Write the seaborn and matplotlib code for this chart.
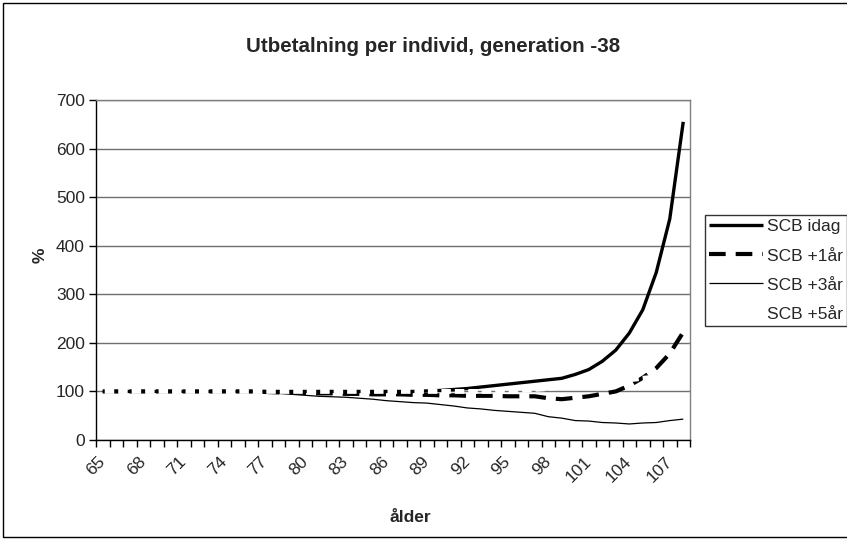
import numpy as np
import pandas as pd
import matplotlib
matplotlib.use("Agg")
import matplotlib.pyplot as plt
from matplotlib.patches import Rectangle
import seaborn as sns

sns.set_style("white")
plt.rcParams['font.family'] = ['Liberation Sans', 'DejaVu Sans']

ages = list(range(65, 109))
scb_idag = [100]*24 + [101, 102, 104, 106, 109, 112, 115, 118, 121, 124, 127,
                        135, 145, 162, 185, 220, 268, 345, 455, 655]
scb_1ar = [100]*12 + [99, 98, 98, 97, 96, 96, 95, 95, 94, 94, 94, 93,
                      93, 92, 92, 91, 91, 91, 90, 90, 90, 86, 84,
                      87, 90, 95, 100, 112, 128, 148, 178, 222]
scb_3ar = [100]*11 + [98, 97, 96, 94, 92, 90, 89, 88, 86, 84, 81, 79, 77,
                      76, 73, 70, 66, 64, 61, 59, 57, 55, 48, 45,
                      40, 39, 36, 35, 33, 35, 36, 40, 43]
scb_5ar = [100]*31 + [102, 104, 106, 109, 112, 115, 118, 121, 124, 127, 130, 133, 136]
series_names = ["SCB idag", "SCB +1år", "SCB +3år", "SCB +5år"]
title = "Utbetalning per individ, generation -38"
xlabel = "ålder"
ylabel = "%"

W, H = 847, 540
fig = plt.figure(figsize=(W/100, H/100), dpi=100)
ax = fig.add_axes([96/W, 1-440/H, (690-96)/W, (440-100)/H])

styles = [
    dict(color="black", linewidth=2.4),
    dict(color="black", linewidth=3.0),
    dict(color="black", linewidth=0.9),
    dict(color="white", linewidth=3.5),
]
handles = []
for name, vals, st in zip(series_names, [scb_idag, scb_1ar, scb_3ar, scb_5ar], styles):
    df = pd.DataFrame({"age": ages, "val": vals})
    sns.lineplot(data=df, x="age", y="val", ax=ax, **st)
    ln = ax.lines[-1]
    ln.set_solid_capstyle("butt")
    if name == "SCB +1år":
        ln.set_dashes((4, 2.4))
        ln.set_dash_capstyle("butt")
    if name == "SCB +5år":
        ln.set_linestyle((2.36, (1.95, 0.82)))
        ln.set_dash_capstyle("butt")
    handles.append(ln)

ax.set_xlim(64.5, 108.5)
ax.set_ylim(0, 700)
ax.set_yticks(range(0, 701, 100))
ax.set_yticklabels([str(v) for v in range(0, 701, 100)], fontsize=12.5)
ax.yaxis.grid(True, color="#707070", linewidth=1)
ax.set_axisbelow(True)

# category boundaries as ticks, labels every 3rd category
ax.set_xticks(np.arange(64.5, 108.6, 1.0))
ax.set_xticklabels([])
lab_pos = list(range(65, 109, 3))
ax.set_xticks(lab_pos, minor=True)
ax.set_xticklabels([str(a) for a in lab_pos], minor=True, rotation=45,
                   ha="right", va="center", rotation_mode="anchor", fontsize=12.5)
ax.tick_params(axis="x", which="major", direction="out", length=5, width=1, color="black", bottom=True)
ax.tick_params(axis="x", which="minor", length=0, pad=14)
ax.tick_params(axis="y", direction="out", length=5, width=1, color="black", left=True, pad=3)

for s in ["left", "bottom"]:
    ax.spines[s].set_color("black")
    ax.spines[s].set_linewidth(1)
for s in ["top", "right"]:
    ax.spines[s].set_color("#808080")
    ax.spines[s].set_linewidth(1)

ax.set_xlabel("")
ax.set_ylabel("")
fig.text(410/W, 1-517/H, xlabel, ha="center", va="center", fontsize=12.5, fontweight="bold")
fig.text(40/W, 1-255/H, ylabel, ha="center", va="center", fontsize=12.5, fontweight="bold", rotation=90)
fig.text(433.5/W, 1-47/H, title, ha="center", va="center", fontsize=14.8, fontweight="bold")

leg = fig.legend(handles, series_names, loc="upper left",
                 bbox_to_anchor=(705/W, 1-215/H), frameon=True, fancybox=False,
                 fontsize=12.5, handlelength=3.1, handletextpad=0.2, labelspacing=0.8,
                 borderpad=0.25, borderaxespad=0)
leg.get_frame().set_edgecolor("black")
leg.get_frame().set_linewidth(1)

fig.patches.append(Rectangle((3/W, 3/H), 1.0, 1-6/H, transform=fig.transFigure,
                             fill=False, edgecolor="black", linewidth=1))

fig.savefig("out.png", dpi=100)
